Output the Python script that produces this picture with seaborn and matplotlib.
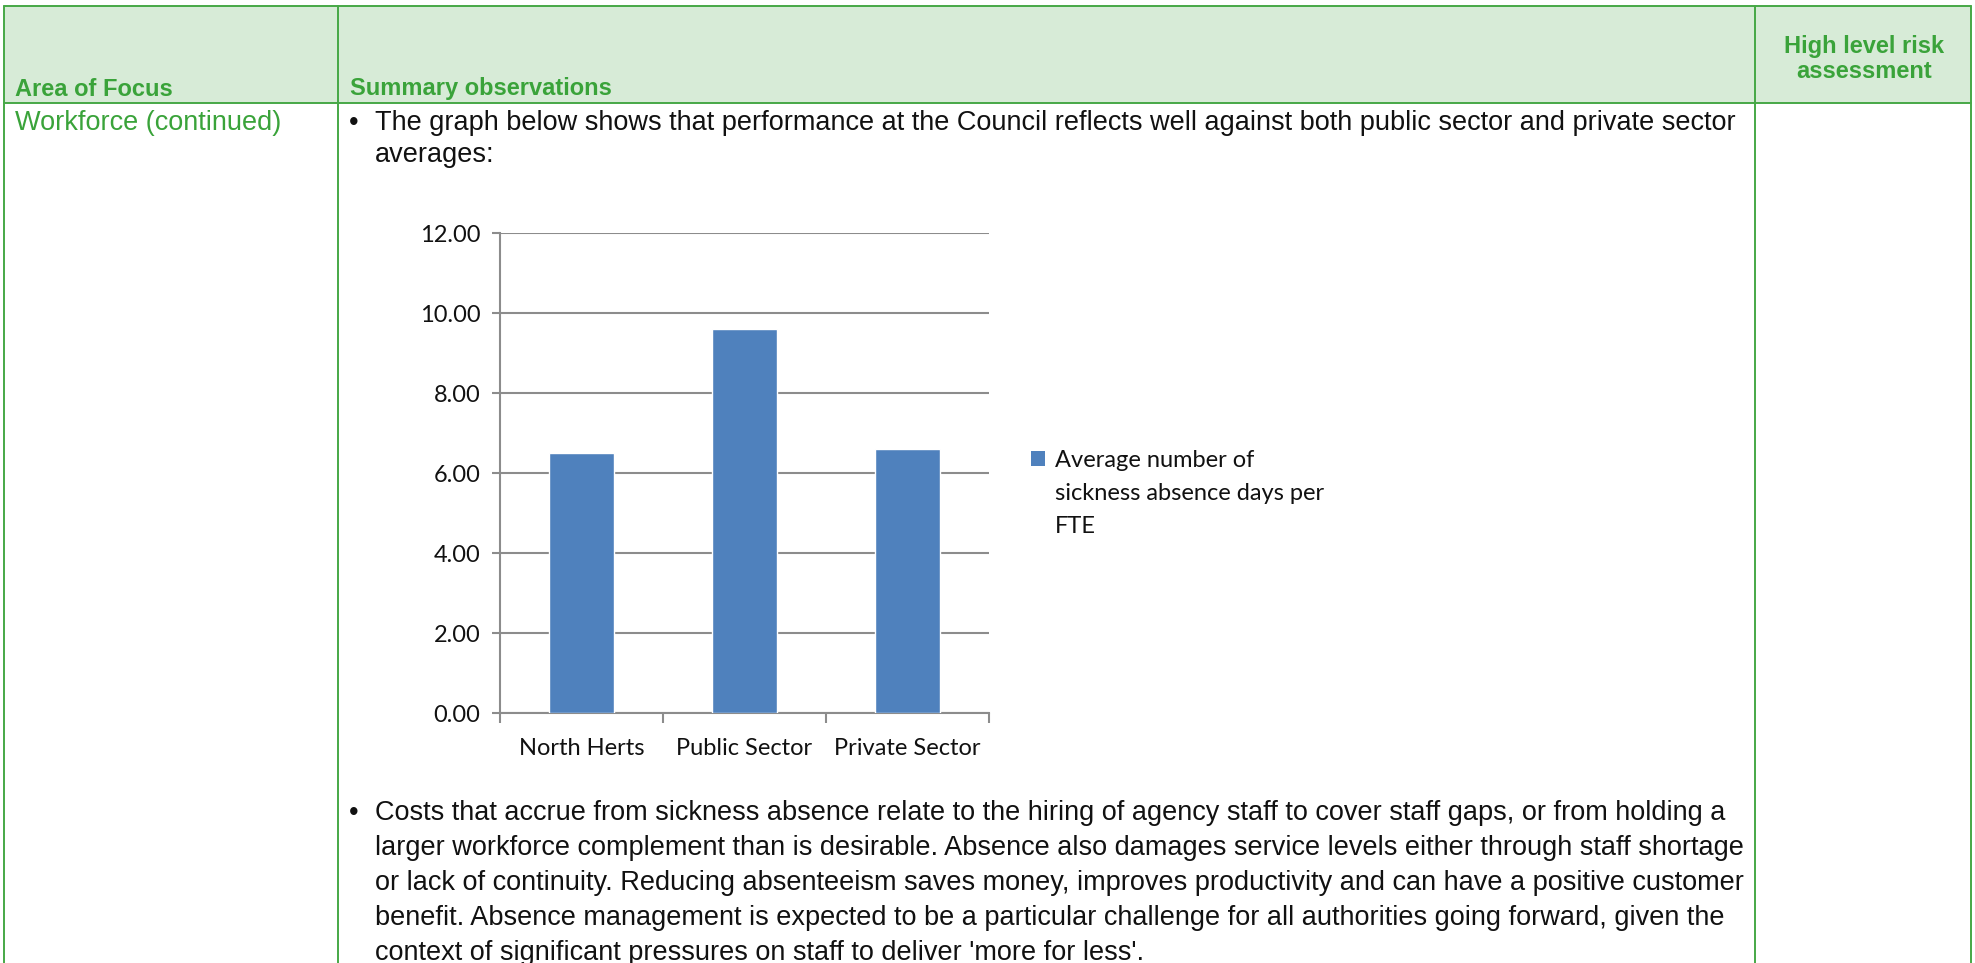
import matplotlib
matplotlib.use("Agg")
import matplotlib.pyplot as plt
import seaborn as sns
from matplotlib.lines import Line2D
from matplotlib.patches import Rectangle
from matplotlib.ticker import FixedLocator, FormatStrFormatter

# ---- data ----
categories = ["North Herts", "Public Sector", "Private Sector"]
values = [6.50, 9.60, 6.60]
series_label_lines = ["Average number of", "sickness absence days per", "FTE"]
y_ticks = [0, 2, 4, 6, 8, 10, 12]

header_cols = ["Area of Focus", "Summary observations", "High level risk\nassessment"]
area_text = "Workforce (continued)"
bullet1 = ["The graph below shows that performance at the Council reflects well against both public sector and private sector",
           "averages:"]
bullet2 = ["Costs that accrue from sickness absence relate to the hiring of agency staff to cover staff gaps, or from holding a",
           "larger workforce complement than is desirable. Absence also damages service levels either through staff shortage",
           "or lack of continuity. Reducing absenteeism saves money, improves productivity and can have a positive customer",
           "benefit. Absence management is expected to be a particular challenge for all authorities going forward, given the",
           "context of significant pressures on staff to deliver 'more for less'."]

W, H = 1975, 963
sns.set_theme(style="white")
plt.rcParams["font.family"] = ["Liberation Sans", "DejaVu Sans"]

fig = plt.figure(figsize=(W / 100, H / 100), dpi=100)
fig.patch.set_facecolor("white")

def fx(x):
    return x / W

def fy(y):
    return 1 - y / H

GREEN = "#3aa33a"
LINE = "#46a846"
HEAD_BG = "#d7ebd7"
TXT = "#111111"
BAR = "#4f81bd"

# ---- table ----
top, head_bot = 6, 103
x_left, x_c1, x_c2, x_right = 4, 338, 1755, 1971
fig.add_artist(Rectangle((fx(x_left), fy(head_bot)), fx(x_right - x_left), (head_bot - top) / H,
                         transform=fig.transFigure, facecolor=HEAD_BG, edgecolor="none", zorder=0))
lw = 1.4
for (x0, y0, x1, y1) in [(x_left, top, x_right, top), (x_left, head_bot, x_right, head_bot),
                         (x_left, top, x_left, H), (x_c1, top, x_c1, H),
                         (x_c2, top, x_c2, H), (x_right, top, x_right, H)]:
    fig.add_artist(Line2D([fx(x0), fx(x1)], [fy(y0), fy(y1)], transform=fig.transFigure,
                          color=LINE, lw=lw, zorder=1))

hfs = 17
fs = 19.5
fig.text(fx(15), fy(89), header_cols[0], color=GREEN, fontsize=hfs, fontweight="bold", va="center", ha="left")
fig.text(fx(350), fy(89), header_cols[1], color=GREEN, fontsize=hfs, fontweight="bold", va="center", ha="left")
fig.text(fx(1864), fy(59), header_cols[2], color=GREEN, fontsize=hfs, fontweight="bold", va="center",
         ha="center", multialignment="center", linespacing=1.12)
fig.text(fx(15), fy(123), area_text, color=GREEN, fontsize=fs, va="center", ha="left")

def bullet(lines, y0, step):
    fig.text(fx(349), fy(y0), "\u2022", color=TXT, fontsize=fs, va="center", ha="left")
    for i, ln in enumerate(lines):
        fig.text(fx(375), fy(y0 + i * step), ln, color=TXT, fontsize=fs, va="center", ha="left")

bullet(bullet1, 123, 32)
bullet(bullet2, 813, 35)

# ---- chart ----
ax_l, ax_r, ax_t, ax_b = 500, 989, 233, 713
ax = fig.add_axes([fx(ax_l), fy(ax_b), (ax_r - ax_l) / W, (ax_b - ax_t) / H])
sns.barplot(x=categories, y=values, color=BAR, width=0.4, saturation=1, ax=ax, zorder=3)
ax.set_ylim(0, 12)
ax.set_xlim(-0.5, 2.5)
ax.yaxis.set_major_locator(FixedLocator(y_ticks))
ax.yaxis.set_major_formatter(FormatStrFormatter("%.2f"))
ax.set_facecolor("none")
GRID = "#8c8c8c"
ax.grid(axis="y", color=GRID, lw=1.5, zorder=0)
ax.set_axisbelow(True)
for s in ["top", "right"]:
    ax.spines[s].set_visible(False)
for s in ["left", "bottom"]:
    ax.spines[s].set_color(GRID)
    ax.spines[s].set_linewidth(1.5)
cfont = ["Lato", "DejaVu Sans"]
cfs = 17
ax.tick_params(axis="y", length=6, width=1.5, color=GRID, labelsize=cfs, pad=8, left=True)
ax.set_xticks([-0.5, 0.5, 1.5, 2.5])
ax.set_xticklabels([])
ax.set_xticks([0, 1, 2], minor=True)
ax.set_xticklabels(categories, minor=True)
ax.tick_params(axis="x", which="major", length=7, width=1.5, color=GRID, bottom=True)
ax.tick_params(axis="x", which="minor", length=0, labelsize=cfs, pad=18)
for t in ax.get_yticklabels() + ax.get_xticklabels(minor=True):
    t.set_family(cfont)
    t.set_color(TXT)
ax.set_xlabel("")
ax.set_ylabel("")

handles = [Rectangle((0, 0), 1, 1, facecolor=BAR, edgecolor="none"),
           Rectangle((0, 0), 1, 1, facecolor="none", edgecolor="none"),
           Rectangle((0, 0), 1, 1, facecolor="none", edgecolor="none")]
leg = ax.legend(handles, series_label_lines, loc="upper left",
                bbox_to_anchor=(fx(1031), fy(450)), bbox_transform=fig.transFigure,
                frameon=False, prop={"family": cfont, "size": cfs}, handlelength=0.6, handleheight=0.6,
                handletextpad=0.4, borderaxespad=0, borderpad=0, labelspacing=0.5)
for t in leg.get_texts():
    t.set_color(TXT)

fig.savefig("out.png", dpi=100, facecolor="white")
